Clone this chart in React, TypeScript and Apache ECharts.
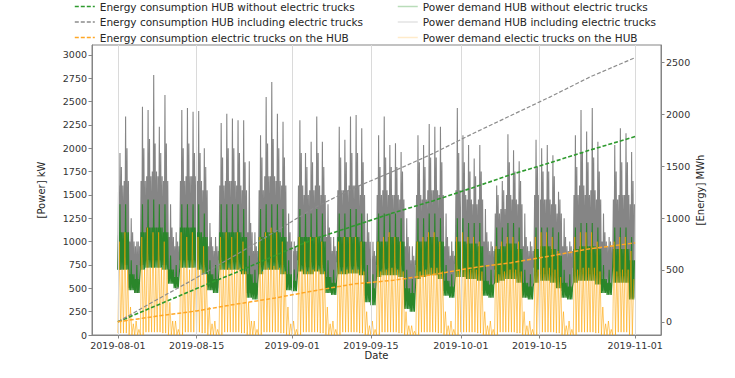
import React, { useEffect, useRef } from "react";
import * as echarts from "echarts";

// ---------- axis ticks ----------
const dateTicks = ["2019-08-01", "2019-08-15", "2019-09-01", "2019-09-15", "2019-10-01", "2019-10-15", "2019-11-01"];
const powerTicks = [0, 250, 500, 750, 1000, 1250, 1500, 1750, 2000, 2250, 2500, 2750, 3000];
const energyTicks = [0, 500, 1000, 1500, 2000, 2500];

// ---------- cumulative energy (MWh), read weekly ----------
const energyDays = [0, 7, 14, 21, 28, 35, 42, 49, 56, 63, 70, 77, 84, 92];
const energyHub = [0, 160, 320, 475, 640, 800, 925, 1050, 1165, 1290, 1420, 1535, 1655, 1785];
const energyHubTrucks = [0, 215, 425, 645, 870, 1100, 1290, 1450, 1620, 1810, 1990, 2170, 2360, 2545];
const energyTrucks = [0, 55, 105, 170, 230, 300, 365, 400, 455, 520, 570, 635, 705, 760];

// ---------- power demand (kW), daily readings from 2019-08-01 (rows of 7 days) ----------
const grayPeak = [
  1950, 2340, 1250, 1000, 2445, 2410, 2785,
  2230, 2570, 1400, 1100, 2410, 2430, 2390,
  2400, 2000, 1200, 1050, 2270, 2370, 2320,
  2300, 2300, 1860, 1100, 2140, 2550, 2710,
  2370, 2285, 1300, 1000, 2300, 1950, 2070,
  2340, 2070, 1400, 1050, 2230, 2090, 2340,
  2355, 2215, 1300, 1000, 2140, 2340, 2035,
  2055, 1960, 1250, 950, 2140, 2035, 2260,
  2230, 2230, 1300, 1000, 2430, 2140, 2035,
  1890, 2035, 1350, 1000, 1600, 1650, 2150,
  1980, 1860, 1300, 1000, 2090, 2000, 2035,
  1925, 1535, 1250, 1000, 2140, 2410, 2180,
  2430, 2070, 1300, 1050, 2035, 2215, 2160,
  1960,
];
const graySecond = [
  1800, 2000, 1100, 1000, 2000, 2100, 2050,
  1950, 2050, 1150, 1000, 2000, 2050, 1950,
  1950, 1800, 1050, 950, 1900, 2000, 2000,
  1950, 1850, 1200, 950, 1900, 2050, 2100,
  2000, 1900, 1100, 950, 1950, 1800, 1850,
  1950, 1800, 1150, 950, 1900, 1850, 1950,
  1950, 1850, 1100, 900, 1800, 1900, 1800,
  1800, 1750, 1050, 850, 1850, 1800, 1900,
  1900, 1850, 1050, 900, 1950, 1850, 1750,
  1700, 1750, 1100, 950, 1500, 1550, 1850,
  1750, 1650, 1050, 950, 1800, 1750, 1750,
  1700, 1450, 1050, 950, 1800, 1950, 1850,
  1900, 1750, 1100, 1000, 1750, 1850, 1850,
  1650,
];
const grayHigh = [
  1600, 1650, 1000, 950, 1650, 1700, 1750,
  1700, 1650, 1050, 950, 1650, 1700, 1700,
  1650, 1550, 950, 900, 1600, 1650, 1650,
  1600, 1550, 1100, 900, 1550, 1700, 1700,
  1650, 1600, 1000, 900, 1600, 1500, 1550,
  1600, 1500, 1050, 900, 1550, 1550, 1600,
  1600, 1500, 1000, 850, 1500, 1550, 1500,
  1500, 1450, 950, 800, 1500, 1450, 1550,
  1550, 1500, 950, 850, 1550, 1500, 1450,
  1400, 1450, 1000, 900, 1300, 1350, 1500,
  1450, 1400, 950, 900, 1500, 1450, 1450,
  1400, 1300, 950, 900, 1500, 1600, 1500,
  1550, 1450, 1000, 950, 1450, 1500, 1500,
  1400,
];
const grayLow = [
  700, 750, 500, 450, 750, 800, 800,
  800, 750, 600, 550, 800, 800, 800,
  800, 750, 520, 500, 800, 800, 800,
  800, 750, 450, 430, 750, 800, 800,
  800, 750, 540, 530, 800, 780, 780,
  800, 750, 500, 500, 780, 780, 800,
  800, 750, 420, 400, 750, 780, 780,
  780, 750, 380, 350, 750, 760, 780,
  780, 740, 470, 460, 760, 760, 760,
  740, 720, 470, 460, 700, 720, 750,
  740, 700, 470, 460, 720, 740, 740,
  720, 650, 470, 460, 720, 760, 760,
  760, 700, 540, 530, 720, 750, 740,
  400,
];
const greenHigh = [
  1400, 1400, 800, 750, 1400, 1450, 1450,
  1400, 1400, 850, 750, 1400, 1400, 1400,
  1400, 1300, 800, 750, 1400, 1400, 1400,
  1400, 1350, 850, 700, 1350, 1400, 1400,
  1400, 1350, 800, 700, 1350, 1300, 1300,
  1350, 1300, 800, 700, 1300, 1300, 1350,
  1350, 1300, 750, 650, 1300, 1300, 1300,
  1300, 1250, 700, 600, 1250, 1250, 1300,
  1300, 1250, 750, 650, 1250, 1250, 1200,
  1200, 1200, 750, 700, 1150, 1150, 1200,
  1200, 1150, 700, 650, 1150, 1150, 1150,
  1150, 1100, 700, 650, 1150, 1200, 1200,
  1200, 1150, 750, 700, 1150, 1150, 1150,
  1050,
];
const greenMid = [
  1100, 1100, 650, 600, 1100, 1150, 1150,
  1150, 1100, 700, 620, 1150, 1150, 1150,
  1100, 1050, 650, 600, 1100, 1100, 1100,
  1100, 1050, 650, 560, 1050, 1100, 1100,
  1100, 1050, 650, 580, 1050, 1050, 1050,
  1050, 1000, 620, 560, 1050, 1050, 1050,
  1050, 1000, 560, 500, 1000, 1000, 1050,
  1050, 1000, 500, 450, 1000, 1000, 1050,
  1050, 1000, 580, 520, 1000, 1000, 980,
  980, 950, 580, 540, 920, 950, 980,
  980, 920, 560, 520, 920, 950, 950,
  920, 850, 560, 520, 920, 950, 950,
  950, 920, 600, 560, 920, 920, 920,
  800,
];
const greenLow = [
  700, 700, 480, 450, 700, 720, 720,
  720, 700, 550, 500, 720, 720, 720,
  700, 650, 480, 450, 700, 700, 700,
  700, 650, 400, 380, 650, 700, 700,
  700, 650, 480, 470, 680, 650, 650,
  680, 650, 450, 430, 650, 650, 660,
  660, 640, 350, 320, 620, 640, 640,
  640, 620, 280, 250, 600, 620, 640,
  640, 600, 420, 400, 620, 620, 600,
  600, 580, 420, 400, 560, 580, 600,
  600, 560, 400, 380, 560, 580, 580,
  560, 500, 400, 380, 560, 580, 580,
  580, 540, 450, 430, 560, 560, 560,
  380,
];
const orangePeak = [
  1000, 1100, 300, 150, 1050, 1150, 1100,
  1100, 1000, 350, 150, 1100, 1050, 1100,
  1050, 950, 300, 150, 1050, 1100, 1050,
  1100, 1000, 350, 150, 1050, 1100, 1150,
  1100, 1000, 300, 150, 1050, 1000, 1050,
  1050, 1000, 300, 150, 1000, 1050, 1050,
  1050, 1000, 250, 150, 1000, 1050, 1100,
  1050, 1000, 250, 100, 1000, 1050, 1100,
  1100, 1000, 250, 150, 1050, 1100, 1050,
  1050, 1000, 250, 150, 950, 1000, 1050,
  1050, 1000, 250, 150, 1050, 1100, 1100,
  1050, 900, 250, 150, 1050, 1100, 1100,
  1100, 1000, 300, 150, 1000, 1050, 1050,
  900,
];
const orangeMid = [
  700, 700, 120, 60, 700, 720, 720,
  720, 700, 150, 60, 720, 700, 720,
  700, 650, 120, 60, 700, 720, 700,
  720, 680, 150, 60, 680, 720, 740,
  720, 680, 120, 60, 700, 680, 700,
  700, 680, 120, 60, 680, 700, 700,
  700, 680, 100, 60, 680, 700, 720,
  700, 680, 100, 40, 680, 700, 720,
  720, 680, 100, 60, 700, 720, 700,
  700, 680, 100, 60, 650, 680, 700,
  700, 680, 100, 60, 700, 720, 720,
  700, 620, 100, 60, 700, 720, 720,
  720, 680, 120, 60, 680, 700, 700,
  600,
];
const orangeLow = [
  20, 20, 0, 0, 0, 30, 30,
  30, 20, 0, 0, 0, 30, 30,
  30, 20, 0, 0, 0, 30, 30,
  30, 20, 0, 0, 0, 30, 30,
  30, 20, 0, 0, 0, 30, 30,
  30, 20, 0, 0, 0, 30, 30,
  30, 20, 0, 0, 0, 30, 30,
  30, 20, 0, 0, 0, 30, 30,
  30, 20, 0, 0, 0, 30, 30,
  30, 20, 0, 0, 0, 30, 30,
  30, 20, 0, 0, 0, 30, 30,
  30, 20, 0, 0, 0, 30, 30,
  30, 20, 0, 0, 0, 30, 30,
  0,
];

const DAY = 86400000;
const HOUR = 3600000;
const START = Date.UTC(2019, 7, 1);

// each day drawn from its readings, placed in equal time slots through the day
type Pick = "low" | "high" | "peak" | "second";
function dailyBand(lows: number[], highs: number[], peaks: number[], seconds: number[], order: Pick[]) {
  const out: [number, number][] = [];
  const step = 24 / order.length;
  for (let d = 0; d < lows.length; d++) {
    const t = START + d * DAY;
    const src = { low: lows[d], high: highs[d], peak: peaks[d], second: seconds[d] };
    order.forEach((k, i) => out.push([t + i * step * HOUR, src[k]]));
  }
  return out;
}
const DENSE: Pick[] = ["low", "high", "low", "peak", "low", "second", "low", "high"];
const SPARSE: Pick[] = ["low", "peak", "low", "high"];

const fmtDate = (v: number) => {
  const d = new Date(v);
  return `${d.getUTCFullYear()}-${String(d.getUTCMonth() + 1).padStart(2, "0")}-${String(d.getUTCDate()).padStart(2, "0")}`;
};

const FONT = "DejaVu Sans";
const FRAME = "#858585";

export default function App() {
  const ref = useRef<HTMLDivElement>(null);
  useEffect(() => {
    document.body.style.margin = "0";
    const chart = echarts.init(ref.current!, null, { renderer: "svg" });
    const tickTs = dateTicks.map((s) => Date.parse(s + "T00:00:00Z"));
    const eData = (arr: number[]) => energyDays.map((d, i) => [START + d * DAY, arr[i]]);

    const names = {
      eHub: "Energy consumption HUB without electric trucks",
      eAll: "Energy consumption HUB including electric trucks",
      eTr: "Energy consumption electric trucks on the HUB",
      pHub: "Power demand HUB without electric trucks",
      pAll: "Power demand HUB including electric trucks",
      pTr: "Power demand electic trucks on the HUB",
    };

    const legendCommon = {
      orient: "vertical" as const,
      top: 1,
      padding: 0,
      itemWidth: 20,
      itemHeight: 10,
      itemGap: 4.5,
      itemStyle: { opacity: 0 },
      textStyle: { fontSize: 10.5, fontFamily: FONT, color: "#262626" },
    };
    const plainLabel = (v: number) => String(v);

    chart.setOption({
      animation: false,
      textStyle: { fontFamily: FONT },
      grid: { left: 92, right: 74, top: 45, bottom: 43, show: true, borderColor: FRAME, borderWidth: 1, backgroundColor: "transparent" },
      legend: [
        {
          ...legendCommon,
          left: 74,
          data: [
            { name: names.eHub, lineStyle: { color: "#2e9a2e", width: 1.6 } },
            { name: names.eAll, lineStyle: { color: "#8c8c8c", width: 1.6 } },
            { name: names.eTr, lineStyle: { color: "#ffa726", width: 1.6 } },
          ],
        },
        {
          ...legendCommon,
          left: 397,
          data: [
            { name: names.pHub, lineStyle: { color: "#b9dcb9", width: 1.5 } },
            { name: names.pAll, lineStyle: { color: "#e3e3e3", width: 1.5 } },
            { name: names.pTr, lineStyle: { color: "#ffe1ad", width: 1.5 } },
          ],
        },
      ],
      xAxis: {
        type: "value",
        min: START - 4.6 * DAY,
        max: START + 96.6 * DAY,
        name: "Date",
        nameLocation: "middle",
        nameGap: 15,
        nameMoveOverlap: false,
        nameTextStyle: { fontSize: 10, color: "#262626", fontFamily: FONT },
        axisLine: { show: true, lineStyle: { color: FRAME } },
        axisTick: { show: true, length: 3.5, customValues: tickTs, lineStyle: { color: FRAME } },
        axisLabel: { customValues: tickTs, formatter: (v: number) => fmtDate(v), fontSize: 9.5, color: "#333", margin: 5, fontFamily: FONT },
        splitLine: { show: false },
      },
      yAxis: [
        {
          type: "value",
          position: "left",
          min: 0,
          max: 3106,
          name: "[Power] kW",
          nameLocation: "middle",
          nameGap: 46,
          nameRotate: 90,
          nameTextStyle: { fontSize: 10, color: "#262626", fontFamily: FONT },
          axisLine: { show: true, lineStyle: { color: FRAME } },
          axisTick: { show: true, length: 3.5, customValues: powerTicks, lineStyle: { color: FRAME } },
          axisLabel: { customValues: powerTicks, formatter: plainLabel, fontSize: 9.5, color: "#333", margin: 5, fontFamily: FONT },
          splitLine: { show: false },
        },
        {
          type: "value",
          position: "right",
          min: -127,
          max: 2667,
          name: "[Energy] MWh",
          nameLocation: "middle",
          nameGap: 34,
          nameMoveOverlap: false,
          nameRotate: 90,
          nameTextStyle: { fontSize: 10, color: "#262626", fontFamily: FONT },
          axisLine: { show: true, lineStyle: { color: FRAME } },
          axisTick: { show: true, length: 3.5, customValues: energyTicks, lineStyle: { color: FRAME } },
          axisLabel: { customValues: energyTicks, formatter: plainLabel, fontSize: 9.5, color: "#333", margin: 5, fontFamily: FONT },
          splitLine: { show: false },
        },
      ],
      series: [
        {
          name: "_grid",
          type: "line",
          data: [],
          z: 1,
          silent: true,
          markLine: {
            silent: true,
            symbol: ["none", "none"],
            label: { show: false },
            lineStyle: { color: "#dadada", width: 1, type: "solid" },
            data: tickTs.map((t) => ({ xAxis: t })),
          },
        },
        {
          name: names.pAll,
          type: "line",
          z: 2,
          symbol: "none",
          showSymbol: false,
          lineStyle: { color: "#858585", width: 1.1 },
          itemStyle: { color: "#858585" },
          data: dailyBand(grayLow, grayHigh, grayPeak, graySecond, DENSE),
        },
        {
          name: names.pHub,
          type: "line",
          z: 3,
          symbol: "none",
          showSymbol: false,
          lineStyle: { color: "#2a862a", width: 1.1 },
          itemStyle: { color: "#2a862a" },
          data: dailyBand(greenLow, greenMid, greenHigh, greenMid, DENSE),
        },
        {
          name: names.pTr,
          type: "line",
          z: 4,
          symbol: "none",
          showSymbol: false,
          lineStyle: { color: "#ffa500", width: 0.9, opacity: 0.65 },
          itemStyle: { color: "#ffa500" },
          data: dailyBand(orangeLow, orangeMid, orangePeak, orangeMid, SPARSE),
        },
        {
          name: names.eHub,
          type: "line",
          yAxisIndex: 1,
          z: 6,
          symbol: "none",
          showSymbol: false,
          lineStyle: { color: "#2e9a2e", width: 1.6, type: [4, 2] },
          itemStyle: { color: "#2e9a2e" },
          data: eData(energyHub),
        },
        {
          name: names.eAll,
          type: "line",
          yAxisIndex: 1,
          z: 6,
          symbol: "none",
          showSymbol: false,
          lineStyle: { color: "#8c8c8c", width: 1.2, type: [4, 2] },
          itemStyle: { color: "#8c8c8c" },
          data: eData(energyHubTrucks),
        },
        {
          name: names.eTr,
          type: "line",
          yAxisIndex: 1,
          z: 6,
          symbol: "none",
          showSymbol: false,
          lineStyle: { color: "#ffa726", width: 1.5, type: [4, 2] },
          itemStyle: { color: "#ffa726" },
          data: eData(energyTrucks),
        },
      ],
    });
    return () => chart.dispose();
  }, []);
  return <div ref={ref} style={{ width: 735, height: 378 }} />;
}
